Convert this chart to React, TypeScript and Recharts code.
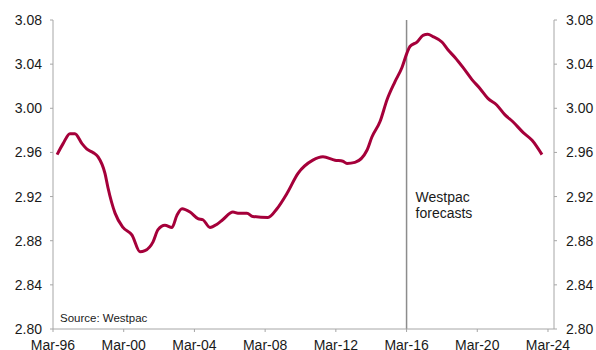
import { LineChart, Line, XAxis, YAxis, ReferenceLine } from 'recharts'

// x = years since Mar-96
const yrs = [
  0.23, 0.57, 0.96, 1.24, 1.64, 1.92, 2.26, 2.55, 2.94, 3.11,
  3.51, 3.96, 4.47, 4.92, 5.2, 5.66, 5.94, 6.33, 6.73, 7.01,
  7.3, 7.75, 8.2, 8.48, 8.88, 9.28, 9.6, 10.18, 10.46, 10.97,
  11.3, 12.16, 12.67, 13.24, 13.86, 14.7, 15.27, 15.95, 16.4, 16.63,
  17.08, 17.76, 18.04, 18.5, 18.9, 19.34, 19.74, 20.02, 20.19, 20.59,
  20.93, 21.2, 21.49, 22.0, 22.34, 22.74, 23.19, 23.7, 24.15, 24.6,
  25.1, 25.57, 26.0, 26.6, 27.1, 27.66,
]
const values = [
  2.958, 2.968, 2.977, 2.977, 2.968, 2.963, 2.96, 2.956, 2.941, 2.928,
  2.905, 2.892, 2.885, 2.87, 2.871, 2.879, 2.89, 2.894, 2.892, 2.903,
  2.909, 2.906, 2.9, 2.899, 2.892, 2.895, 2.899, 2.906, 2.905, 2.905,
  2.902, 2.901, 2.909, 2.923, 2.941, 2.953, 2.956, 2.953, 2.952, 2.95,
  2.951, 2.962, 2.974, 2.988, 3.008, 3.024, 3.037, 3.05, 3.056, 3.06,
  3.066, 3.067, 3.065, 3.06, 3.053, 3.046, 3.037, 3.026, 3.018, 3.009,
  3.003, 2.994, 2.988, 2.978, 2.971, 2.958,
]
const xTicks = [0, 4, 8, 12, 16, 20, 24, 28]
const xLabels = ['Mar-96', 'Mar-00', 'Mar-04', 'Mar-08', 'Mar-12', 'Mar-16', 'Mar-20', 'Mar-24']
const yTicks = [2.8, 2.84, 2.88, 2.92, 2.96, 3.0, 3.04, 3.08]
const forecastStart = 20 // Mar-16

const data = yrs.map((t, i) => ({ t, v: values[i] }))

const AXIS = '#A6A6A6'
const TEXT = '#1a1a1a'
const FONT = '"Liberation Sans", Arial, sans-serif'

function ForecastLabel(props: any) {
  const x = props.viewBox?.x ?? 0
  return (
    <text x={x + 9} y={202} fill={TEXT} fontSize={14} fontFamily={FONT}>
      <tspan x={x + 9} y={202}>Westpac</tspan>
      <tspan x={x + 9} y={218}>forecasts</tspan>
    </text>
  )
}

export default function App() {
  return (
    <div style={{ position: 'absolute', left: 0, top: 0, width: 596, height: 350, background: '#fff', fontFamily: FONT }}>
      <LineChart width={596} height={350} data={data} margin={{ top: 20, right: 0, left: 0, bottom: 0 }}>
        <XAxis
          dataKey="t" type="number" domain={[0, 28.34]} ticks={xTicks} allowDataOverflow
          tickFormatter={(v) => xLabels[xTicks.indexOf(v)] ?? ''}
          height={21} stroke={AXIS} tickSize={3} tickMargin={8}
          tick={{ fill: TEXT, fontSize: 14, fontFamily: FONT }} interval={0}
        />
        <YAxis
          yAxisId="left" domain={[2.8, 3.08]} ticks={yTicks} allowDataOverflow width={53}
          tickFormatter={(v) => v.toFixed(2)} stroke={AXIS} tickSize={3} tickMargin={8}
          tick={{ fill: TEXT, fontSize: 14, fontFamily: FONT }} interval={0}
        />
        <YAxis
          yAxisId="right" orientation="right" domain={[2.8, 3.08]} ticks={yTicks} allowDataOverflow width={42}
          tickFormatter={(v) => v.toFixed(2)} stroke={AXIS} tickSize={3} tickMargin={9}
          tick={{ fill: TEXT, fontSize: 14, fontFamily: FONT }} interval={0}
        />
        <ReferenceLine yAxisId="left" x={forecastStart} stroke="#8C8C8C" strokeWidth={1.5} label={<ForecastLabel />} />
        <Line
          yAxisId="left" type="monotone" dataKey="v" stroke="#A5003A" strokeWidth={3}
          dot={false} isAnimationActive={false}
        />
        <text x={60} y={322} fill={TEXT} fontSize={11.5} fontFamily={FONT}>Source: Westpac</text>
      </LineChart>
    </div>
  )
}
